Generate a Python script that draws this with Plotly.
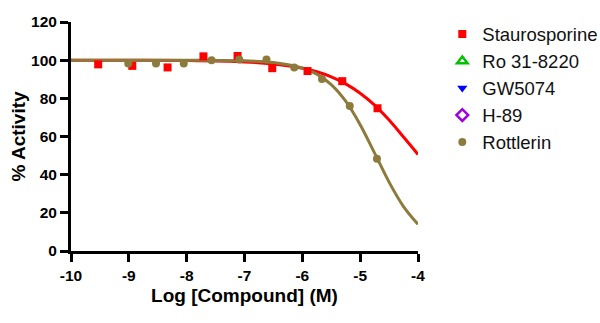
import plotly.graph_objects as go

# Staurosporine data points
stauro_x = [-9.53, -8.94, -8.33, -7.71, -7.12, -6.52, -5.91, -5.31, -4.70]
stauro_y = [97.8, 97.0, 96.2, 102.0, 102.2, 95.8, 94.3, 89.0, 74.8]

# Rottlerin data points
rott_x = [-9.01, -8.53, -8.05, -7.57, -7.09, -6.62, -6.14, -5.66, -5.18, -4.71]
rott_y = [98.3, 98.3, 98.3, 100.0, 100.4, 100.4, 96.2, 90.1, 76.0, 48.4]

# Fitted curves
curve_x = [-10, -9, -8, -7, -6.5, -6, -5.75, -5.5, -5.25, -5, -4.75, -4.5, -4.25, -4]
stauro_fit = [100.0, 99.96, 99.8, 99.1, 98.0, 95.8, 93.9, 91.3, 87.6, 82.7, 76.4, 68.6, 59.7, 50.6]
rott_fit = [100.0, 100.0, 99.97, 99.65, 98.8, 95.9, 92.7, 87.2, 78.5, 66.2, 51.3, 36.1, 23.3, 14.0]

legend_names = ["Staurosporine", "Ro 31-8220", "GW5074", "H-89", "Rottlerin"]
x_ticks = [-10, -9, -8, -7, -6, -5, -4]
y_ticks = [0, 20, 40, 60, 80, 100, 120]

RED = "#FF0000"
GREEN = "#00C000"
BLUE = "#0000FF"
PURPLE = "#A000E0"
GOLD = "#8C7B3C"

FONT = "Arial, Liberation Sans, sans-serif"

fig = go.Figure()

# fitted curves (not in legend)
fig.add_trace(go.Scatter(x=curve_x, y=stauro_fit, mode="lines", line=dict(color=RED, width=3, shape="spline"),
                         showlegend=False, hoverinfo="skip"))
fig.add_trace(go.Scatter(x=curve_x, y=rott_fit, mode="lines", line=dict(color=GOLD, width=3, shape="spline"),
                         showlegend=False, hoverinfo="skip"))

fig.add_trace(go.Scatter(x=stauro_x, y=stauro_y, mode="markers", name=legend_names[0],
                         marker=dict(symbol="square", size=8, color=RED)))
fig.add_trace(go.Scatter(x=[None], y=[None], mode="markers", name=legend_names[1],
                         marker=dict(symbol="triangle-up-open", size=9, color=GREEN, line=dict(width=2.5))))
fig.add_trace(go.Scatter(x=[None], y=[None], mode="markers", name=legend_names[2],
                         marker=dict(symbol="triangle-down", size=9, color=BLUE)))
fig.add_trace(go.Scatter(x=[None], y=[None], mode="markers", name=legend_names[3],
                         marker=dict(symbol="diamond-open", size=9, color=PURPLE, line=dict(width=2.5))))
fig.add_trace(go.Scatter(x=rott_x, y=rott_y, mode="markers", name=legend_names[4],
                         marker=dict(symbol="circle", size=8, color=GOLD)))

fig.update_layout(
    width=600, height=323,
    margin=dict(l=71, r=182, t=22, b=72, autoexpand=False),
    plot_bgcolor="white", paper_bgcolor="white",
    font=dict(family=FONT, color="black"),
    legend=dict(x=1.07, y=1.029, xanchor="left", yanchor="top",
                font=dict(family=FONT, size=18.5, color="#111111"),
                bgcolor="rgba(0,0,0,0)", itemwidth=30),
    xaxis=dict(range=[-10, -4], tickmode="array", tickvals=x_ticks,
               ticktext=[str(v) for v in x_ticks],
               showline=True, linecolor="black", linewidth=3,
               ticks="outside", ticklen=8, tickwidth=3, tickcolor="black",
               showgrid=False, zeroline=False, automargin=False,
               tickfont=dict(family=FONT, size=15.5, weight="bold"),
               title=dict(text="Log [Compound] (M)", font=dict(family=FONT, size=19, weight="bold"), standoff=7)),
    yaxis=dict(range=[0, 120], tickmode="array", tickvals=y_ticks,
               ticktext=[str(v) for v in y_ticks],
               showline=True, linecolor="black", linewidth=3,
               ticks="outside", ticklen=8, tickwidth=3, tickcolor="black",
               showgrid=False, zeroline=False, automargin=False,
               tickfont=dict(family=FONT, size=15.5, weight="bold"),
               title=dict(text="% Activity", font=dict(family=FONT, size=19, weight="bold"), standoff=1)),
)

fig.write_html("out.html")
